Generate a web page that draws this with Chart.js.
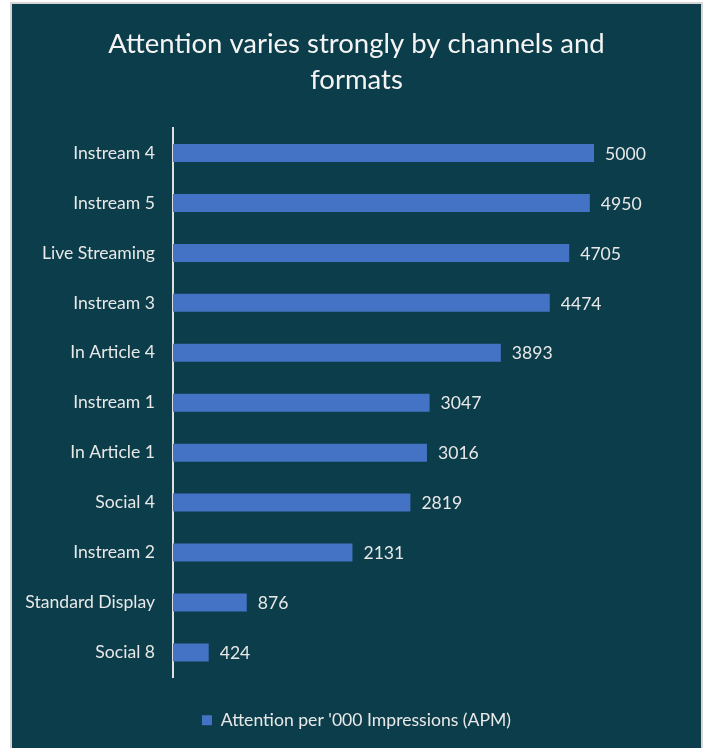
<!DOCTYPE html>
<html>
<head>
<meta charset="utf-8">
<script src="https://cdn.jsdelivr.net/npm/chart.js@4/dist/chart.umd.min.js"></script>
<style>
    html, body { margin: 0; padding: 0; background: #ffffff; }
    #panel {
        position: absolute;
        left: 10px; top: 2px;
        width: 689px; height: 746px;
        background: #0c3d4a;
        border: 2px solid #d6d6d6;
        border-bottom: none;
    }
    #wrap { position: absolute; left: 0; top: 2px; width: 689px; height: 744px; }
</style>
</head>
<body>
<div id="panel"><div id="wrap"><canvas id="apmChart"></canvas></div></div>
<script>
// Kanály a formáty, seřazené od nejvyšší pozornosti
const formats = ['Instream 4', 'Instream 5', 'Live Streaming', 'Instream 3', 'In Article 4',
    'Instream 1', 'In Article 1', 'Social 4', 'Instream 2', 'Standard Display', 'Social 8'];
const apmValues = [5000, 4950, 4705, 4474, 3893, 3047, 3016, 2819, 2131, 876, 424];
const seriesLabel = "Attention per '000 Impressions (APM)";
const titleLines = ['Attention varies strongly by channels and', 'formats'];

const textColor = '#e8e8e8';
const fontFamily = 'Lato, "Open Sans", sans-serif';
const labelSize = 17.6;

// Popisky hodnot vpravo od konce sloupce
const valueLabels = {
    id: 'valueLabels',
    afterDatasetsDraw(chart) {
        const ctx = chart.ctx;
        const meta = chart.getDatasetMeta(0);
        ctx.save();
        ctx.fillStyle = textColor;
        ctx.font = labelSize + 'px ' + fontFamily;
        ctx.textAlign = 'left';
        ctx.textBaseline = 'middle';
        meta.data.forEach((bar, i) => {
            ctx.fillText(String(apmValues[i]), bar.x + 11, bar.y + 1);
        });
        ctx.restore();
    }
};

const ctx = document.getElementById('apmChart').getContext('2d');
window.apmChart = new Chart(ctx, {
    type: 'bar',
    data: {
        labels: formats,
        datasets: [{
            label: seriesLabel,
            data: apmValues,
            backgroundColor: '#4472c4',
            borderWidth: 0,
            categoryPercentage: 1,
            barPercentage: 0.36
        }]
    },
    options: {
        indexAxis: 'y',
        responsive: true,
        maintainAspectRatio: false,
        animation: false,
        layout: { padding: { left: 0, right: 0, top: 0, bottom: 11 } },
        plugins: {
            title: {
                display: true,
                text: titleLines,
                color: '#f4f4f4',
                font: { family: fontFamily, size: 27.5, weight: 'normal', lineHeight: 1.31 },
                padding: { top: 20, bottom: 30 }
            },
            legend: {
                position: 'bottom',
                labels: {
                    color: textColor,
                    boxWidth: 10,
                    boxHeight: 10,
                    padding: 6,
                    font: { family: fontFamily, size: labelSize }
                }
            },
            tooltip: { enabled: false }
        },
        scales: {
            x: {
                // osa bez popisků, jen drží mezeru nad legendou
                display: true,
                min: 0,
                max: 6270,
                grid: { display: false },
                border: { display: false },
                ticks: { display: false },
                afterFit(scale) { scale.height = 28; }
            },
            y: {
                grid: { display: false },
                border: { display: true, color: '#e0e0e0', width: 2 },
                ticks: {
                    color: textColor,
                    padding: 10,
                    font: { family: fontFamily, size: labelSize }
                },
                afterFit(scale) { scale.width = 161; }
            }
        }
    },
    plugins: [valueLabels]
});
</script>
</body>
</html>
